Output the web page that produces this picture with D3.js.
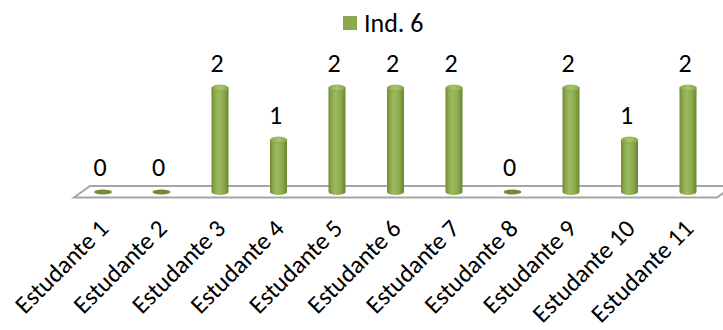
<!DOCTYPE html>
<html>
<head>
<meta charset="utf-8">
<script src="https://cdn.jsdelivr.net/npm/d3@7/dist/d3.min.js"></script>
<style>
  html, body { margin: 0; padding: 0; background: #fff; }
  svg { display: block; }
  text { font-family: Carlito, Calibri, "Open Sans", sans-serif; fill: #000; }
</style>
</head>
<body>
<svg id="chart" width="723" height="330"></svg>
<script>
// Chart data
const categories = ["Estudante 1", "Estudante 2", "Estudante 3", "Estudante 4", "Estudante 5",
  "Estudante 6", "Estudante 7", "Estudante 8", "Estudante 9", "Estudante 10", "Estudante 11"];
const seriesName = "Ind. 6";
const values = [0, 0, 2, 1, 2, 2, 2, 0, 2, 1, 2];

const svg = d3.select("#chart");
const fontSize = 26;
const axisFontSize = 25;

// Scales
const x = d3.scalePoint().domain(categories).range([103, 688]);
const y = d3.scaleLinear().domain([0, 2]).range([192, 88]);

const barW = 17, ry = 3;

// Gradients for the cylinder body and its cap
const defs = svg.append("defs");
const body = defs.append("linearGradient").attr("id", "cylBody")
  .attr("x1", "0%").attr("x2", "100%").attr("y1", "0%").attr("y2", "0%");
[["0%", "#6f8a35"], ["18%", "#8aa84c"], ["40%", "#9dbb5e"], ["70%", "#8eac4f"], ["100%", "#6a8530"]]
  .forEach(([o, c]) => body.append("stop").attr("offset", o).attr("stop-color", c));
const cap = defs.append("linearGradient").attr("id", "cylCap")
  .attr("x1", "0%").attr("x2", "100%").attr("y1", "0%").attr("y2", "0%");
[["0%", "#8aa64c"], ["50%", "#a6c468"], ["100%", "#88a54a"]]
  .forEach(([o, c]) => cap.append("stop").attr("offset", o).attr("stop-color", c));

// Floor (3D plot base)
const floorBackY = 186, floorFrontY = 197.5, floorDepth = 16;
const x0 = 74, x1 = 717;
svg.append("path")
  .attr("d", `M${x0},${floorFrontY} L${x0 + floorDepth},${floorBackY} L${x1 + floorDepth},${floorBackY} L${x1},${floorFrontY} Z`)
  .attr("fill", "#fff").attr("stroke", "#a5a5a5").attr("stroke-width", 2);

// Bars as cylinders
const g = svg.append("g");
values.forEach((v, i) => {
  const cx = x(categories[i]);
  const base = y(0);
  if (v === 0) {
    g.append("ellipse").attr("cx", cx).attr("cy", base).attr("rx", barW / 2 + 0.5).attr("ry", 2.5)
      .attr("fill", "#6f8c35");
    return;
  }
  const top = y(v);
  g.append("path")
    .attr("d", `M${cx - barW / 2},${top} L${cx - barW / 2},${base} A${barW / 2},${ry} 0 0 0 ${cx + barW / 2},${base} L${cx + barW / 2},${top} Z`)
    .attr("fill", "url(#cylBody)");
  g.append("ellipse").attr("cx", cx).attr("cy", top).attr("rx", barW / 2).attr("ry", ry)
    .attr("fill", "url(#cylCap)").attr("stroke", "#7d9a40").attr("stroke-width", 0.6);
});

// Value labels
svg.append("g").selectAll("text").data(values).join("text")
  .attr("x", (d, i) => x(categories[i]) - 3)
  .attr("y", d => y(d) - 16)
  .attr("text-anchor", "middle")
  .attr("font-size", fontSize)
  .text(d => d);

// Category labels, rotated
svg.append("g").selectAll("text").data(categories).join("text")
  .attr("text-anchor", "end")
  .attr("font-size", axisFontSize)
  .attr("transform", d => `translate(${x(d) + 7},${230}) rotate(-45)`)
  .text(d => d);

// Legend
const legend = svg.append("g");
legend.append("rect").attr("x", 343).attr("y", 16).attr("width", 14).attr("height", 14).attr("fill", "#8aa84c");
legend.append("text").attr("x", 364).attr("y", 32).attr("font-size", fontSize).text(seriesName);
</script>
</body>
</html>
